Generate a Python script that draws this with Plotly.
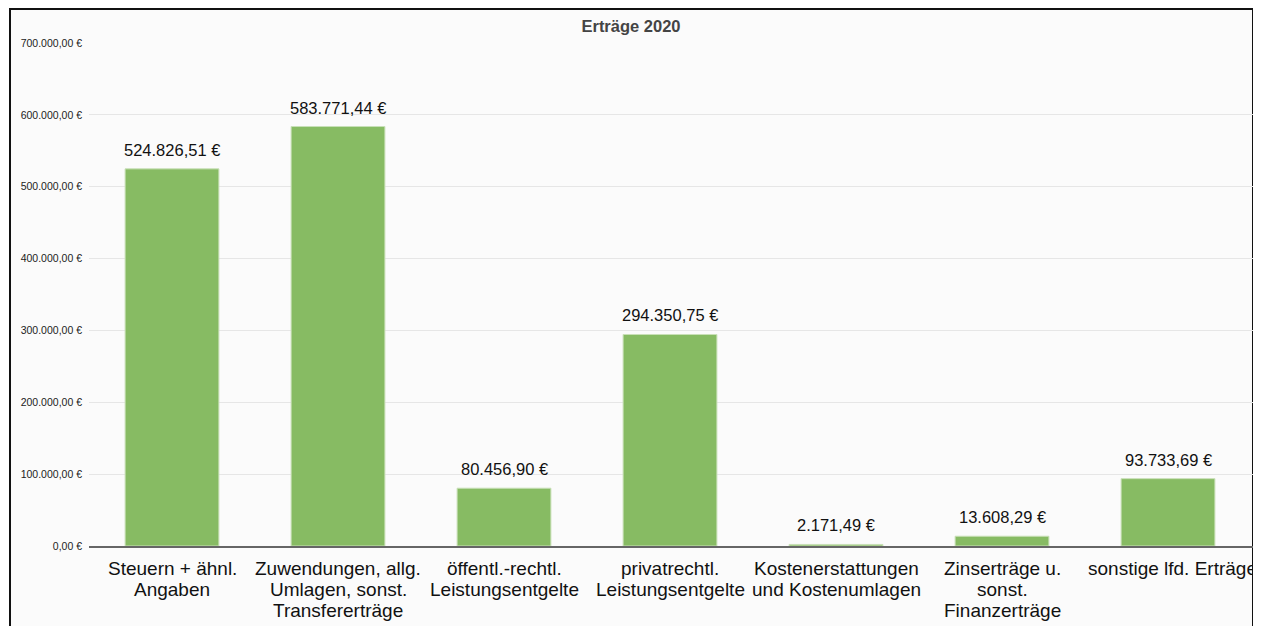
import plotly.graph_objects as go

categories = [
    "Steuern + ähnl.<br>Angaben",
    "Zuwendungen, allg.<br>Umlagen, sonst.<br>Transfererträge",
    "öffentl.-rechtl.<br>Leistungsentgelte",
    "privatrechtl.<br>Leistungsentgelte",
    "Kostenerstattungen<br>und Kostenumlagen",
    "Zinserträge u.<br>sonst.<br>Finanzerträge",
    "sonstige lfd. Erträge",
]
values = [524826.51, 583771.44, 80456.90, 294350.75, 2171.49, 13608.29, 93733.69]
value_labels = ["524.826,51 €", "583.771,44 €", "80.456,90 €", "294.350,75 €",
                "2.171,49 €", "13.608,29 €", "93.733,69 €"]
tick_vals = [0, 100000, 200000, 300000, 400000, 500000, 600000, 700000]
tick_text = ["0,00 €", "100.000,00 €", "200.000,00 €", "300.000,00 €",
             "400.000,00 €", "500.000,00 €", "600.000,00 €", "700.000,00 €"]
title = "Erträge 2020"

# page has an 8px body margin; figure coordinates = screen - 8
W, H = 1253, 618
L, R, T, B = 81, 7, 35, 80
pw, ph = W - L - R, H - T - B
FONT = "Liberation Sans, Arial"

fig = go.Figure()
fig.add_trace(go.Bar(
    x=categories, y=values,
    marker=dict(color="#87bb63", line=dict(color="#c9e0b8", width=1)),
    hoverinfo="skip",
))
for c, v, t in zip(categories, values, value_labels):
    fig.add_annotation(x=c, y=v, text=t, showarrow=False, yanchor="bottom",
                       yshift=8, font=dict(family=FONT, size=16.5, color="#111"))

# category labels, one annotation per line (tighter line height than tick labels)
for k, c in enumerate(categories):
    last = k == len(categories) - 1
    for i, line in enumerate(c.split("<br>")):
        kw = dict(xanchor="center")
        if last:
            # the last label runs into the frame and is clipped there
            kw = dict(xanchor="left", xshift=-82, width=164, align="left")
        fig.add_annotation(x=c, y=0, text=line, showarrow=False, yanchor="middle",
                           yshift=-(22 + 21 * i),
                           font=dict(family=FONT, size=19, color="#111"), **kw)

def px_to_paper_x(px):
    return (px - L) / pw

def px_to_paper_y(py):
    return (H - B - py) / ph

fig.add_shape(type="rect", xref="paper", yref="paper",
              x0=px_to_paper_x(2), x1=px_to_paper_x(1245),
              y0=px_to_paper_y(640), y1=px_to_paper_y(1),
              line=dict(color="#111", width=2), fillcolor="#fbfbfb", layer="below")

fig.update_layout(
    width=W, height=H,
    margin=dict(l=L, r=R, t=T, b=B, autoexpand=False),
    paper_bgcolor="white",
    plot_bgcolor="rgba(0,0,0,0)",
    bargap=0.435,
    showlegend=False,
    title=dict(text="<b>" + title + "</b>", x=(631 - 8) / W, xref="container", y=1 - 18 / H,
               yanchor="middle", xanchor="center",
               font=dict(family=FONT, size=16.5, color="#444")),
    font=dict(family=FONT),
)
fig.update_xaxes(
    showline=True, linecolor="#666", linewidth=2, automargin=False,
    showticklabels=False, ticks="", showgrid=False,
)
fig.update_yaxes(
    range=[0, 700000], tickvals=tick_vals, ticktext=tick_text, automargin=False,
    tickfont=dict(size=10.5, color="#222"), showgrid=True, gridcolor="#e6e6e6",
    gridwidth=1, zeroline=False, ticks="", ticklabelstandoff=6,
)
fig.write_html("out.html")
